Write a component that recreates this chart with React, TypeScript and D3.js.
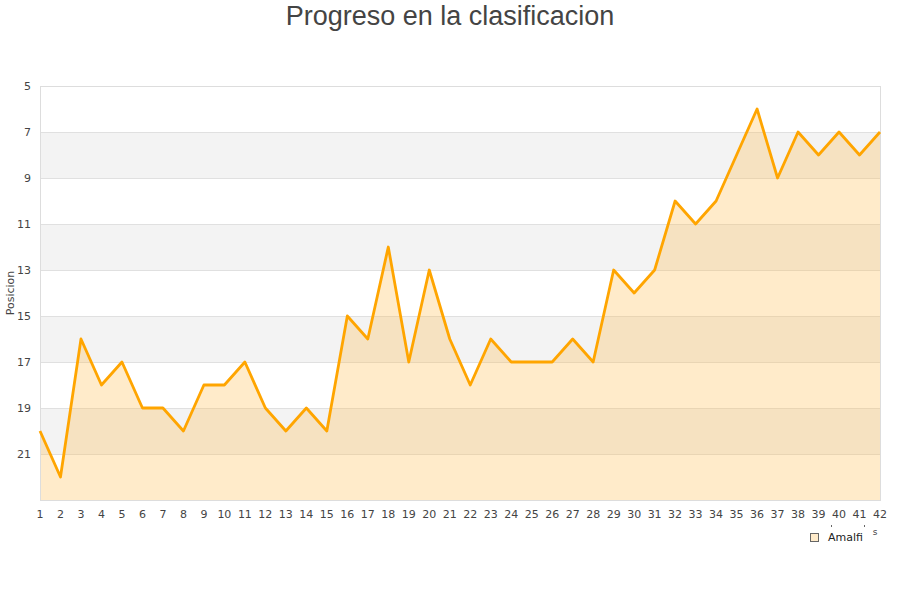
import React, { useEffect, useRef } from "react";
import * as d3 from "d3";

const jornadas = d3.range(1, 43);
const posiciones = [
  20, 22, 16, 18, 17, 19, 19, 20, 18, 18, 17, 19, 20, 19, 20, 15, 16, 12, 17, 13, 16,
  18, 16, 17, 17, 17, 16, 17, 13, 14, 13, 10, 11, 10, 8, 6, 9, 7, 8, 7, 8, 7,
];
const yTicks = [5, 7, 9, 11, 13, 15, 17, 19, 21];
const equipo = "Amalfi";
const titulo = "Progreso en la clasificacion";

const W = 900;
const H = 600;
const margin = { top: 86, right: 20, bottom: 100, left: 40 };

export default function App() {
  const ref = useRef<SVGSVGElement>(null);

  useEffect(() => {
    const svg = d3.select(ref.current);
    svg.selectAll("*").remove();

    const x = d3.scaleLinear().domain([1, 42]).range([margin.left, W - margin.right]);
    const y = d3.scaleLinear().domain([5, 23]).range([margin.top, H - margin.bottom]);

    const font = "DejaVu Sans, sans-serif";

    // bands
    const bands = d3.range(5, 23, 2);
    svg.append("g")
      .selectAll("rect")
      .data(bands)
      .enter()
      .append("rect")
      .attr("x", x(1))
      .attr("width", x(42) - x(1))
      .attr("y", (d) => y(d))
      .attr("height", (d) => y(d + 2) - y(d))
      .attr("fill", (d, i) => (i % 2 === 1 ? "#f3f3f3" : "#ffffff"));

    // grid
    svg.append("g")
      .selectAll("line")
      .data(yTicks)
      .enter()
      .append("line")
      .attr("x1", x(1))
      .attr("x2", x(42))
      .attr("y1", (d) => y(d) + 0.5)
      .attr("y2", (d) => y(d) + 0.5)
      .attr("stroke", "#e0e0e0");

    // area
    const area = d3.area<number>()
      .x((d, i) => x(jornadas[i]))
      .y0(y(23))
      .y1((d) => y(d));
    svg.append("path")
      .datum(posiciones)
      .attr("d", area)
      .attr("fill", "rgba(255,190,80,0.3)");

    // frame
    svg.append("rect")
      .attr("x", x(1) + 0.5)
      .attr("y", y(5) + 0.5)
      .attr("width", x(42) - x(1))
      .attr("height", y(23) - y(5))
      .attr("fill", "none")
      .attr("stroke", "#dddddd");

    // line
    const line = d3.line<number>()
      .x((d, i) => x(jornadas[i]))
      .y((d) => y(d));
    svg.append("path")
      .datum(posiciones)
      .attr("d", line)
      .attr("fill", "none")
      .attr("stroke", "#ffa500")
      .attr("stroke-width", 2.8)
      .attr("stroke-linejoin", "round");

    // y labels
    svg.append("g")
      .selectAll("text")
      .data(yTicks)
      .enter()
      .append("text")
      .attr("x", 31)
      .attr("y", (d) => y(d) + 4)
      .attr("text-anchor", "end")
      .attr("font-family", font)
      .attr("font-size", 11)
      .attr("fill", "#444")
      .text((d) => d);

    // x labels
    svg.append("g")
      .selectAll("text")
      .data(jornadas)
      .enter()
      .append("text")
      .attr("x", (d) => x(d))
      .attr("y", y(23) + 18)
      .attr("text-anchor", "middle")
      .attr("font-family", font)
      .attr("font-size", 11)
      .attr("fill", "#444")
      .text((d) => d);

    // y axis title
    svg.append("text")
      .attr("transform", `translate(14, ${(y(5) + y(23)) / 2}) rotate(-90)`)
      .attr("text-anchor", "middle")
      .attr("font-family", font)
      .attr("font-size", 11)
      .attr("fill", "#444")
      .text("Posicion");

    // clipped x axis title remnant
    svg.append("text")
      .attr("x", 875)
      .attr("y", 535)
      .attr("text-anchor", "middle")
      .attr("font-family", font)
      .attr("font-size", 9)
      .attr("fill", "#444")
      .text("s");
    svg.append("g")
      .selectAll("rect")
      .data([831, 864])
      .enter()
      .append("rect")
      .attr("x", (d) => d)
      .attr("y", 525)
      .attr("width", 1)
      .attr("height", 2)
      .attr("fill", "#666");

    // legend
    svg.append("rect")
      .attr("x", 810.5)
      .attr("y", 533.5)
      .attr("width", 8)
      .attr("height", 8)
      .attr("fill", "#ffebca")
      .attr("stroke", "#666")
      .attr("stroke-width", 1);
    svg.append("text")
      .attr("x", 828)
      .attr("y", 541)
      .attr("font-family", font)
      .attr("font-size", 11)
      .attr("fill", "#222")
      .text(equipo);

    // title
    svg.append("text")
      .attr("x", W / 2)
      .attr("y", 25)
      .attr("text-anchor", "middle")
      .attr("font-family", "Liberation Sans, Arial, sans-serif")
      .attr("font-size", 27)
      .attr("fill", "#444")
      .text(titulo);
  }, []);

  return (
    <svg
      ref={ref}
      width={W}
      height={H}
      style={{ position: "absolute", left: 0, top: 0, background: "#fff" }}
    />
  );
}
